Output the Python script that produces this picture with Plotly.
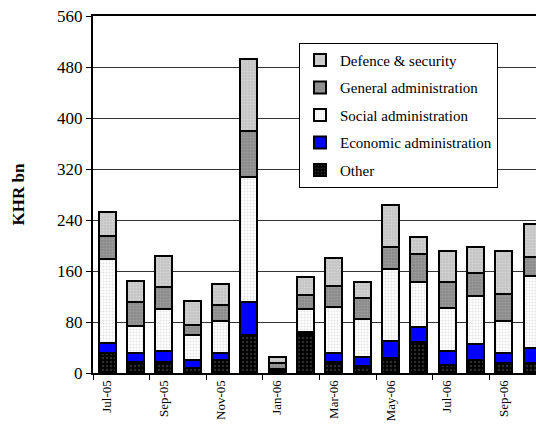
import plotly.graph_objects as go

months = ["Jul-05", "Aug-05", "Sep-05", "Oct-05", "Nov-05", "Dec-05", "Jan-06", "Feb-06",
          "Mar-06", "Apr-06", "May-06", "Jun-06", "Jul-06", "Aug-06", "Sep-06", "Oct-06"]
other = [31, 17, 18, 8, 21, 60, 4, 61, 18, 11, 23, 49, 12, 20, 15, 16]
economic = [16, 15, 16, 12, 10, 52, 0.5, 4, 14, 14, 27, 23, 22, 26, 16, 24]
social = [132, 41, 66, 39, 50, 196, 2.5, 36, 71, 60, 113, 71, 68, 75, 51, 112]
general = [36, 38, 35, 17, 25, 71, 9, 21, 33, 32, 35, 43, 41, 36, 42, 30]
defence = [37, 33, 49, 37, 34, 114, 9.5, 28, 45, 26, 65, 27, 48, 41, 68, 52]

xi = list(range(len(months)))
FONT = "Liberation Serif, Times New Roman, DejaVu Serif, serif"

series = [
    ("Other", other, dict(shape=".", bgcolor="#000000", fgcolor="#5a5a5a", size=4, solidity=0.3)),
    ("Economic administration", economic, dict(shape="", bgcolor="#0000ff", fgcolor="#0000ff")),
    ("Social administration", social, dict(shape=".", bgcolor="#ffffff", fgcolor="#c8c8c8", size=3, solidity=0.35)),
    ("General administration", general, dict(shape=".", bgcolor="#8a8a8a", fgcolor="#b0b0b0", size=3, solidity=0.4)),
    ("Defence & security", defence, dict(shape=".", bgcolor="#c4c4c4", fgcolor="#e2e2e2", size=3, solidity=0.4)),
]

fig = go.Figure()
for k, (name, vals, pat) in enumerate(series):
    fig.add_trace(go.Bar(
        x=xi, y=vals, name=name, width=0.6, legendgroup=name,
        legendrank=100 * (len(series) - k),
        marker=dict(color=pat["bgcolor"], pattern=pat, line=dict(color="black", width=2)),
    ))

fig.update_layout(
    barmode="stack",
    width=536, height=430,
    margin=dict(l=93, r=0, t=16, b=57),
    paper_bgcolor="white", plot_bgcolor="white",
    font=dict(family=FONT, size=15, color="black"),
    showlegend=True,
    legend=dict(
        x=0.465, y=0.925, xanchor="left", yanchor="top",
        bgcolor="white", bordercolor="black", borderwidth=1,
        traceorder="grouped", tracegroupgap=5,
        font=dict(family=FONT, size=15, color="black"),
        itemwidth=30,
    ),
    xaxis=dict(
        range=[-0.5, 15.14], showgrid=False, zeroline=False,
        showline=True, linecolor="black", linewidth=2, mirror=True,
        tickmode="array", tickvals=xi[::2], ticktext=months[::2],
        tickangle=-90, ticks="", tickfont=dict(family=FONT, size=13),
        minor=dict(tickmode="array", tickvals=[i - 0.5 for i in range(0, 17, 2)],
                   ticks="outside", ticklen=5, tickcolor="black", tickwidth=1, showgrid=False),
    ),
    yaxis=dict(
        range=[0, 560], dtick=80, tick0=0,
        showgrid=True, gridcolor="#333333", gridwidth=1, zeroline=False,
        showline=True, linecolor="black", linewidth=2,
        ticks="outside", ticklen=5, tickcolor="black",
        tickfont=dict(family=FONT, size=17),
        title=dict(text="<b>KHR bn</b>", font=dict(family=FONT, size=17), standoff=28),
    ),
)

fig.write_html("out.html", config={"displayModeBar": False},
               post_script="document.body.style.margin='0';")
